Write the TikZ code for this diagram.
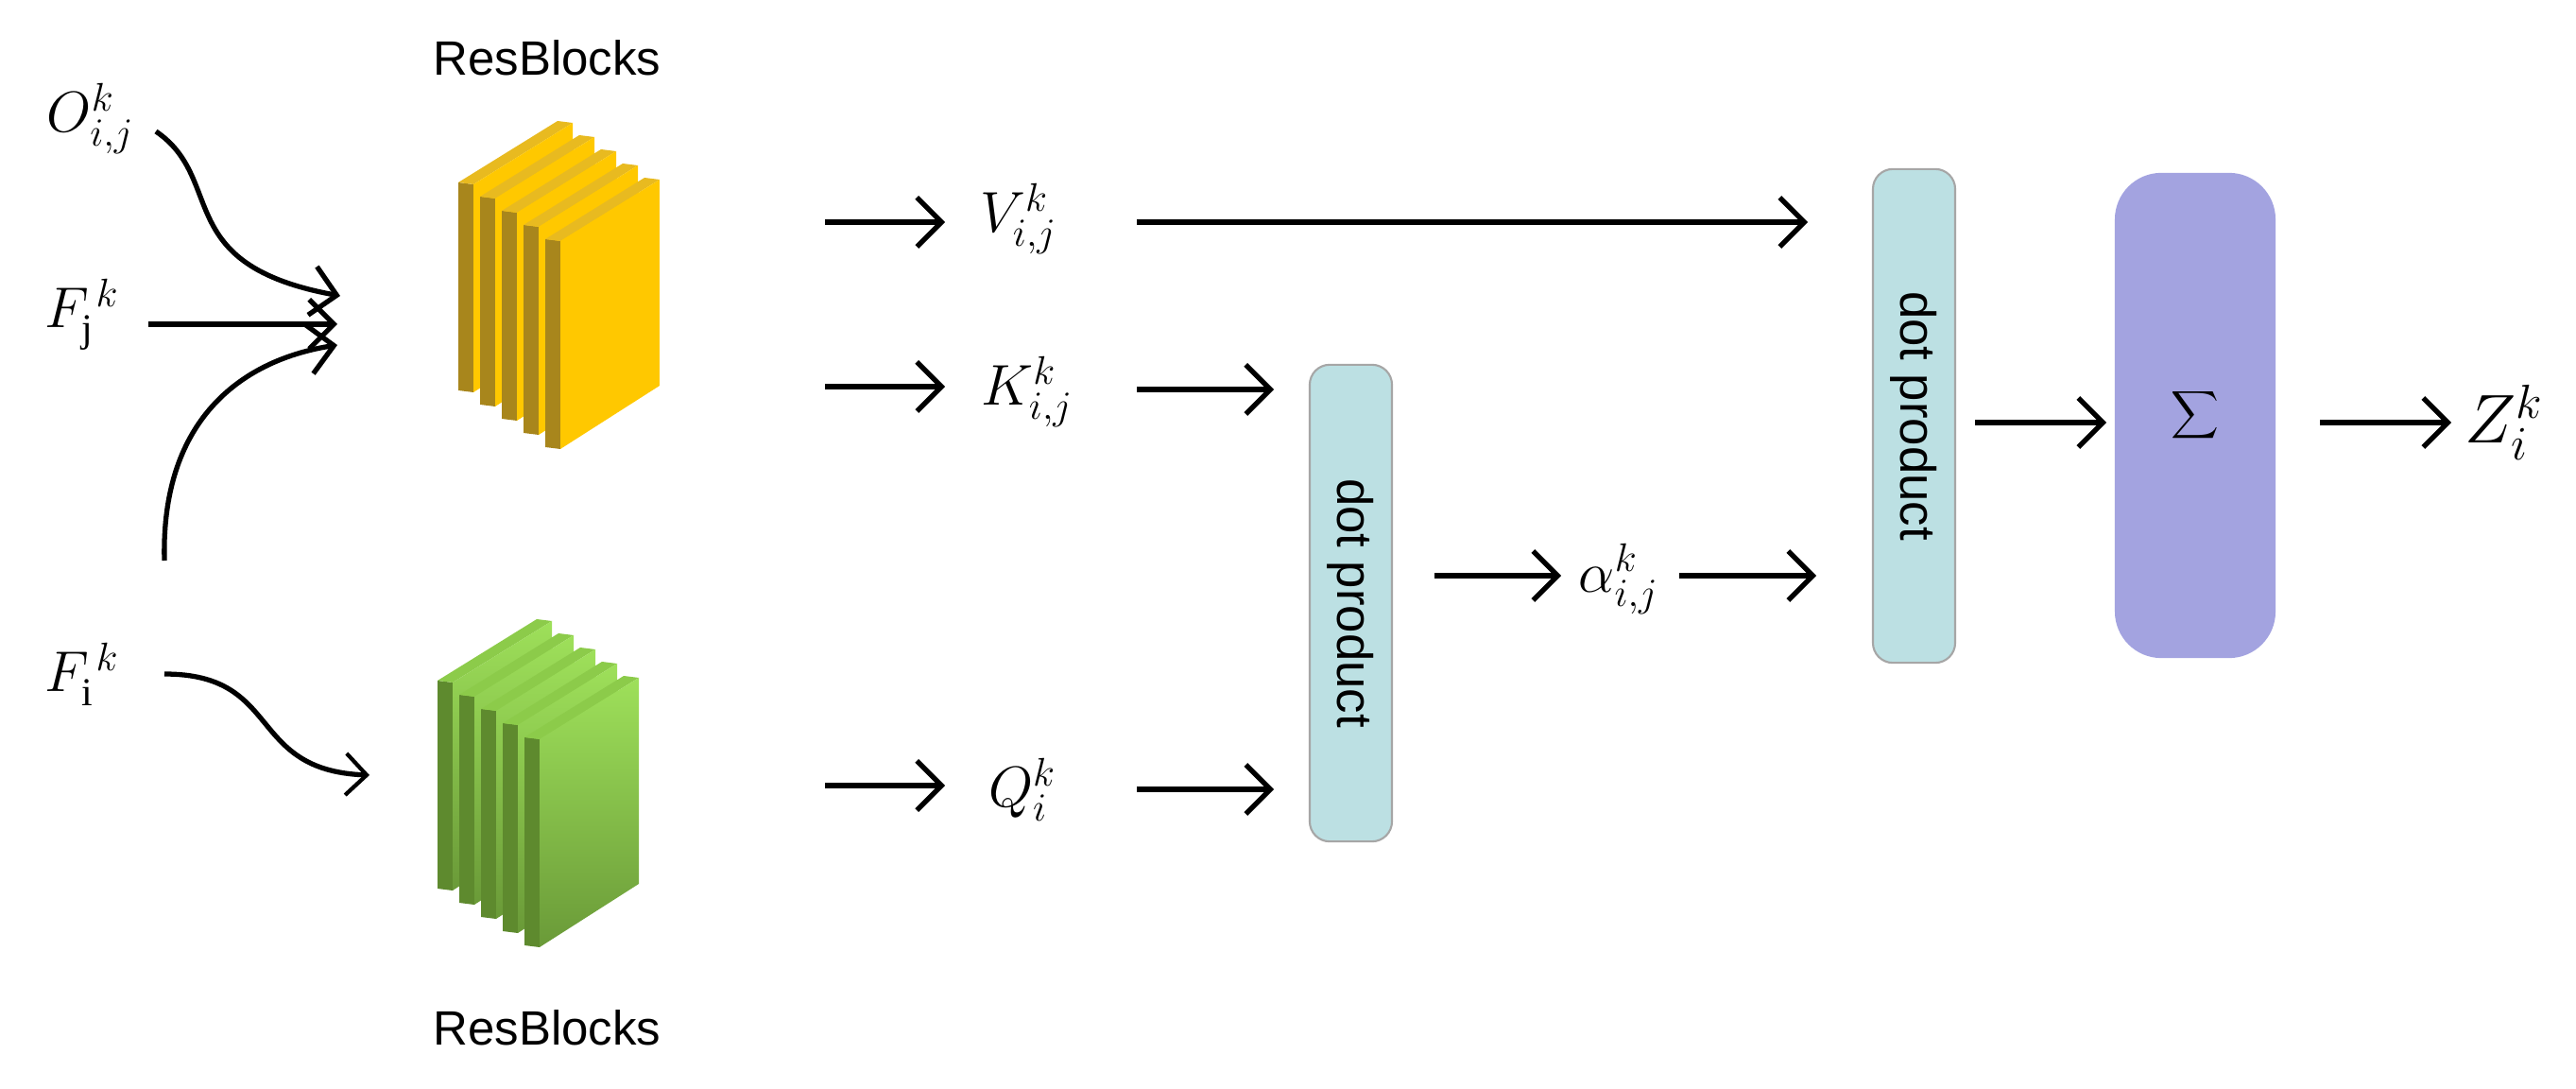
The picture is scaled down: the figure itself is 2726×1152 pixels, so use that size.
\documentclass[tikz,border=0pt]{standalone}
\usepackage{fontspec}
\setmainfont{Liberation Serif}
\newfontfamily\sansf{Liberation Sans}
\usetikzlibrary{arrows.meta}
\definecolor{ydark}{HTML}{A8861C}\definecolor{yface}{HTML}{FFC800}\definecolor{ytop}{HTML}{E8BA20}
\definecolor{gdark}{HTML}{5E8A2E}\definecolor{gface}{HTML}{9EE05A}\definecolor{gface2}{HTML}{6A9A38}\definecolor{gtop}{HTML}{8CCB4A}
\definecolor{dotc}{HTML}{BCE0E3}\definecolor{sigc}{HTML}{A3A3E0}
\newcommand{\myplate}[6]{%
 \fill[#3] (#1,#2)--(#1+16,#2+2)--(#1+16,#2+222)--(#1,#2+220)--cycle;
 \fill[#5] (#1,#2)--(#1+105,#2-65)--(#1+121,#2-63)--(#1+16,#2+2)--cycle;
 \shade[top color=#4,bottom color=#6] (#1+16,#2+2)--(#1+121,#2-63)--(#1+121,#2+155)--(#1+16,#2+222)--cycle;}
\begin{document}
\begin{tikzpicture}[x=0.01cm,y=-0.01cm,
 lab/.style={font=\fontsize{17}{20}\selectfont},
 ar/.style={line width=1.5pt,-{Straight Barb[length=2.6mm,width=5.2mm,line width=1.5pt]}},
 box/.style={draw=gray!70,line width=0.6pt,rounded corners=6pt,fill=dotc,inner sep=0},
 rb/.style={font=\sansf\fontsize{14.5}{17}\selectfont}]
\useasboundingbox (0,0) rectangle (2726,1152);
% blocks
\foreach \i in {0,...,4}{\myplate{485+23*\i}{193+15*\i}{ydark}{yface}{ytop}{yface}}
\foreach \i in {0,...,4}{\myplate{463+23*\i}{720+15*\i}{gdark}{gface}{gtop}{gface2}}
\node[rb] (rb1) at (579,61) {ResBlocks};
\node[rb] (rb2) at (579,1087) {ResBlocks};
% inputs
\node[lab] (O) at (96,125) {$O_{i,j}^{k}$};
\node[lab] (Fj) at (87,333) {$F_{\mathrm{j}}^{\,k}$};
\node[lab] (Fi) at (87,713) {$F_{\mathrm{i}}^{\,k}$};
\coordinate (o1) at (165,139); \coordinate (o2) at (360,313);
\coordinate (f1) at (157,343); \coordinate (f2) at (357,343);
\coordinate (u1) at (174,593); \coordinate (u2) at (357,365);
\coordinate (i1) at (174,713); \coordinate (i2) at (391,820);
\draw[ar] (o1) .. controls (240,190) and (180,280) .. (o2);
\draw[ar] (f1) -- (f2);
\draw[ar] (u1) .. controls (170,440) and (260,380) .. (u2);
\draw[line width=1.5pt,-{Straight Barb[length=2.2mm,width=4.4mm,line width=1.2pt]}] (i1) .. controls (300,713) and (260,815) .. (i2);
% V K Q
\coordinate (av) at (873,235); \coordinate (ak) at (873,409); \coordinate (aq) at (873,831);
\node[lab] (V) at (1078,231) {$V_{i,j}^{k}$};
\node[lab] (K) at (1087,414) {$K_{i,j}^{k}$};
\node[lab] (Q) at (1082,835) {$Q_{i}^{k}$};
\draw[ar] (av) -- (1000,235);
\draw[ar] (ak) -- (1000,409);
\draw[ar] (aq) -- (1000,831);
\node[box,minimum width=0.87cm,minimum height=5.04cm] (d1) at (1429.5,638) {};
\node[rotate=-90,font=\sansf\fontsize{15}{18}\selectfont] at (d1.center) {dot product};
\node[box,minimum width=0.87cm,minimum height=5.22cm] (d2) at (2025.5,440) {};
\node[rotate=-90,font=\sansf\fontsize{15}{18}\selectfont] at (d2.center) {dot product};
\node[draw=none,fill=sigc,rounded corners=14pt,minimum width=1.70cm,minimum height=5.13cm,inner sep=0] (S) at (2323,439.5) {};
\node[font=\fontsize{26}{30}\selectfont] at (S.center) {$\displaystyle\sum$};
\draw[ar] (1203,235) -- (1913,235);
\draw[ar] (1203,412) -- (1348,412);
\draw[ar] (1203,835) -- (1348,835);
\draw[ar] (1518,609) -- (1652,609);
\node[lab] (al) at (1713,612) {$\alpha_{i,j}^{k}$};
\draw[ar] (1777,609) -- (1922,609);
\draw[ar] (2090,447) -- (2229,447);
\draw[ar] (2455,447) -- (2594,447);
\node[font=\fontsize{21}{24}\selectfont] (Z) at (2650,447) {$Z_{i}^{k}$};
\end{tikzpicture}
\end{document}
